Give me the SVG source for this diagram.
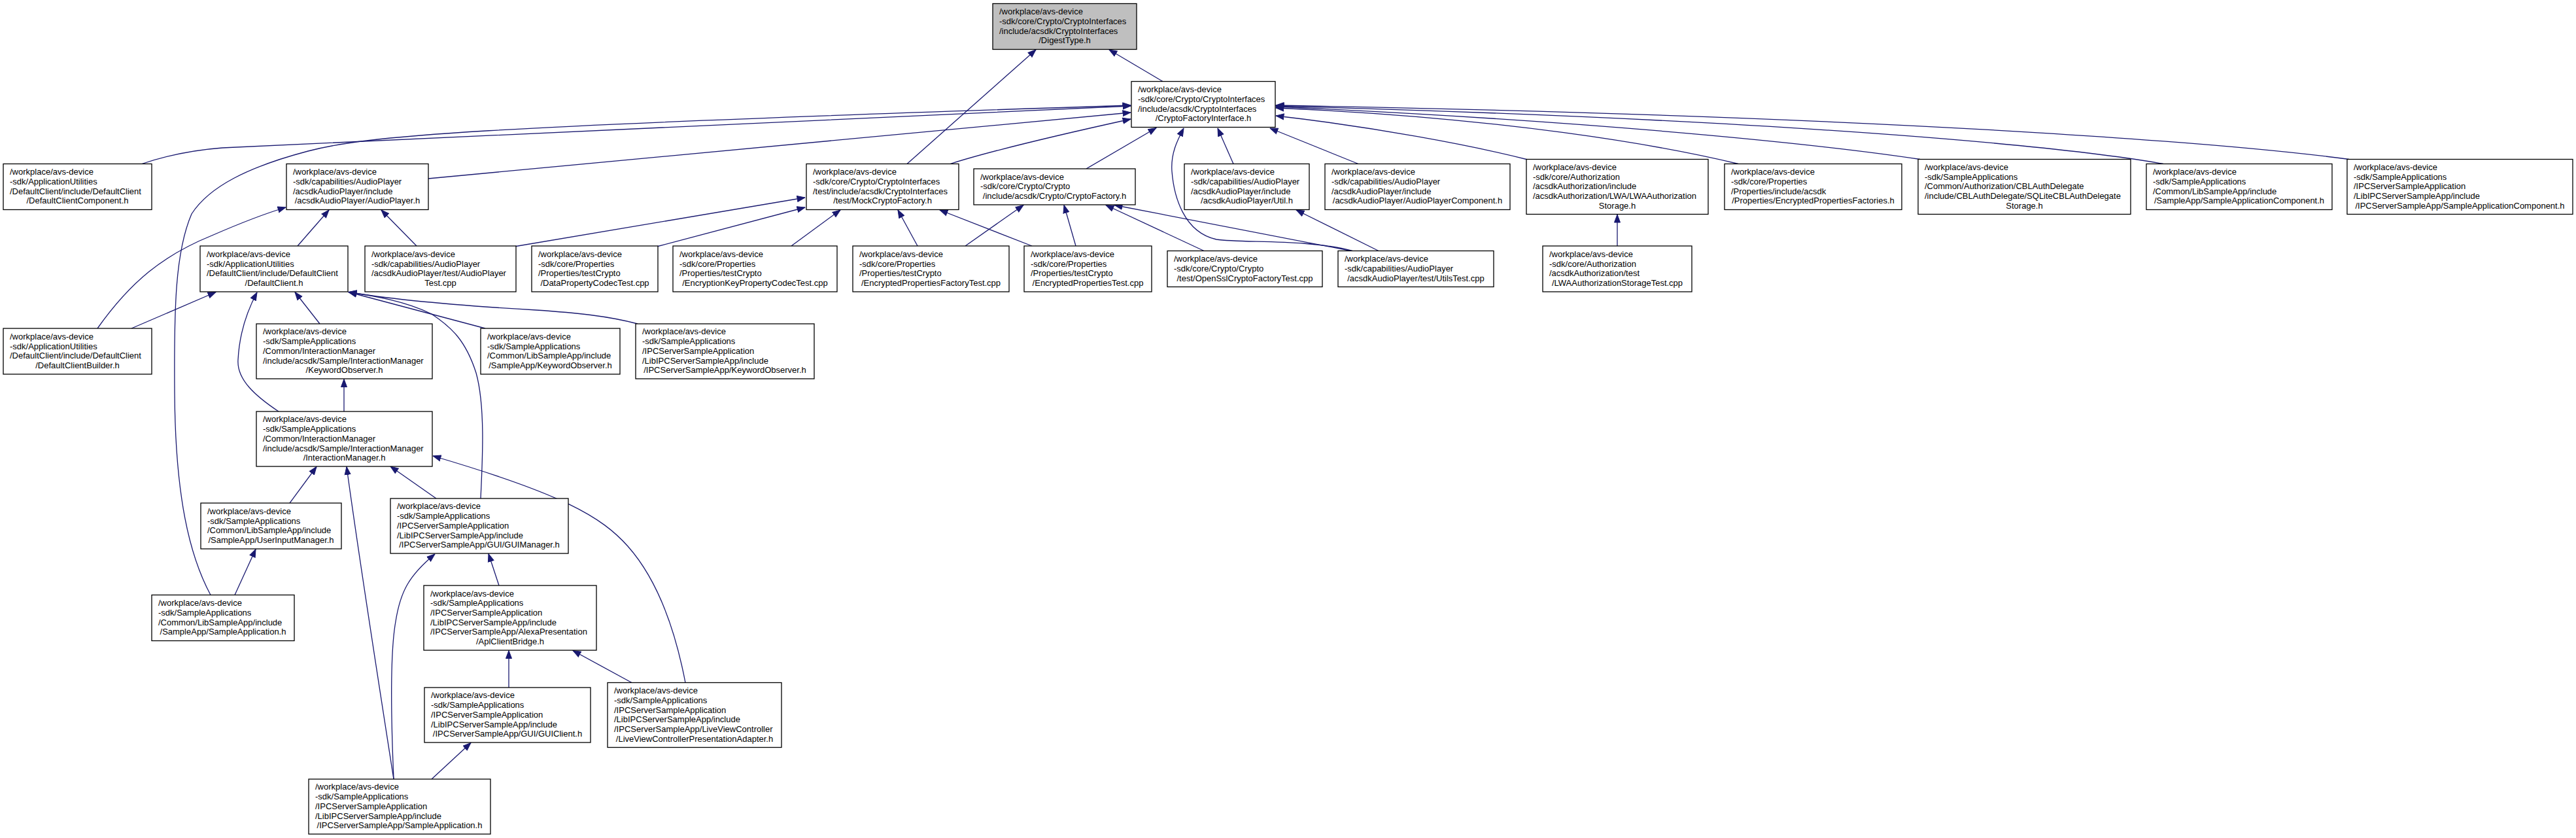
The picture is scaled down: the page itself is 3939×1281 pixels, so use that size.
<svg xmlns="http://www.w3.org/2000/svg" width="3939" height="1281" viewBox="0 0 3939 1281">
<defs>
<style>
.n rect{fill:#fff;stroke:#000;stroke-width:1.3}
.n.g rect{fill:#bfbfbf}
.n text{font-family:"Liberation Sans",Arial,Helvetica,sans-serif;font-size:13px;fill:#000}
.n text.c{text-anchor:middle}
.e path{fill:none;stroke:#191970;stroke-width:1.3;marker-end:url(#ah)}
</style>
<marker id="ah" markerUnits="userSpaceOnUse" markerWidth="13" markerHeight="11" viewBox="0 0 13 11" refX="12.5" refY="5.5" orient="auto">
<path d="M0.5,1 L12.5,5.5 L0.5,10 z" fill="#191970" stroke="#191970" stroke-width="1"/>
</marker>
</defs>
<rect x="0" y="0" width="3939" height="1281" fill="#fff"/>
<g id="edges" class="e">
<path d="M1778,124.5 L1696,76"/>
<path d="M1387,250.5 L1584,76"/>
<path d="M217,250.5 C260,236 300,229 340,226 L1729,162"/>
<path d="M322,909.5 C290,850 268,760 267,600 C266,470 268,385 293,327 C320,285 380,255 471,231 C560,208 700,194 1729,161"/>
<path d="M655,273 L1729,172"/>
<path d="M1453,250.5 C1520,229 1620,206 1729,182"/>
<path d="M1661,258 L1768,195.5"/>
<path d="M2068,383.5 C2000,365 1900,372 1860,366 C1810,355 1795,300 1792,262 C1790,235 1800,215 1810,196"/>
<path d="M1886,250.5 L1862,196"/>
<path d="M2077,250.5 L1942,196"/>
<path d="M2336,244 C2250,222 2100,194 1951,177"/>
<path d="M2658,250.5 C2540,222 2300,180 1951,165"/>
<path d="M2936,243.5 C2820,226 2500,188 1951,163"/>
<path d="M3308,250.5 C3180,228 2800,185 1951,162"/>
<path d="M3592,243.5 C3460,226 3000,180 1951,161"/>
<path d="M455,376 L503,321"/>
<path d="M637,376 L583,321"/>
<path d="M149,502 C200,430 250,390 324,360 C370,340 400,328 437,317"/>
<path d="M786,377 L1231,302"/>
<path d="M1004,377 L1231,317"/>
<path d="M1210,376 L1285,321"/>
<path d="M1403,376 L1373,321"/>
<path d="M1476,376 L1565,313.5"/>
<path d="M1578,376 L1437,321"/>
<path d="M1645,376 L1627,313.5"/>
<path d="M1841,383.5 L1691,313.5"/>
<path d="M2066,383.5 L1704,313.5"/>
<path d="M2108,383.5 L1982,321"/>
<path d="M2473,376 L2473,328"/>
<path d="M201,502 L330,446.5"/>
<path d="M426,629 C390,605 362,580 364,550 C366,510 378,475 393,447"/>
<path d="M489,495 L451,446.5"/>
<path d="M742,502 L533,446.5"/>
<path d="M975,495 C930,483 880,478 820,474 C700,467 600,458 533,446.5"/>
<path d="M735,762 C738,700 742,620 728,570 C712,520 690,500 660,480 C620,460 570,452 533,446.5"/>
<path d="M526,629 L526,579.5"/>
<path d="M443,769 L484,713.5"/>
<path d="M602,1191 C580,1050 550,860 530,713.5"/>
<path d="M667,762 L597,713"/>
<path d="M1048,1043.5 C1030,950 1000,880 960,835 C920,790 860,755 662,697"/>
<path d="M359,909.5 L391,839.5"/>
<path d="M602,1191 C598,1100 596,1000 605,950 C612,905 625,880 665,847"/>
<path d="M660,1191 L720,1135.5"/>
<path d="M763,895 L747,846.5"/>
<path d="M778,1051 L778,994.5"/>
<path d="M966,1043.5 L876,994.5"/>
</g>
<g id="n0" class="n g"><rect x="1518" y="5.5" width="220" height="70"/><text x="1528" y="22.3">/workplace/avs-device</text><text x="1528" y="37">-sdk/core/Crypto/CryptoInterfaces</text><text x="1528" y="51.7">/include/acsdk/CryptoInterfaces</text><text class="c" x="1628" y="66.4">/DigestType.h</text></g>
<g id="n1" class="n"><rect x="1730" y="124.5" width="220" height="70"/><text x="1740" y="141.3">/workplace/avs-device</text><text x="1740" y="156">-sdk/core/Crypto/CryptoInterfaces</text><text x="1740" y="170.7">/include/acsdk/CryptoInterfaces</text><text class="c" x="1840" y="185.4">/CryptoFactoryInterface.h</text></g>
<g id="n2" class="n"><rect x="5" y="250.5" width="227" height="70"/><text x="15" y="267.3">/workplace/avs-device</text><text x="15" y="282">-sdk/ApplicationUtilities</text><text x="15" y="296.7">/DefaultClient/include/DefaultClient</text><text class="c" x="118.5" y="311.4">/DefaultClientComponent.h</text></g>
<g id="n3" class="n"><rect x="438" y="250.5" width="217" height="70"/><text x="448" y="267.3">/workplace/avs-device</text><text x="448" y="282">-sdk/capabilities/AudioPlayer</text><text x="448" y="296.7">/acsdkAudioPlayer/include</text><text class="c" x="546.5" y="311.4">/acsdkAudioPlayer/AudioPlayer.h</text></g>
<g id="n4" class="n"><rect x="1233" y="250.5" width="233" height="70"/><text x="1243" y="267.3">/workplace/avs-device</text><text x="1243" y="282">-sdk/core/Crypto/CryptoInterfaces</text><text x="1243" y="296.7">/test/include/acsdk/CryptoInterfaces</text><text class="c" x="1349.5" y="311.4">/test/MockCryptoFactory.h</text></g>
<g id="n5" class="n"><rect x="1489" y="258" width="247" height="55"/><text x="1499" y="274.6">/workplace/avs-device</text><text x="1499" y="289.3">-sdk/core/Crypto/Crypto</text><text class="c" x="1612.5" y="304">/include/acsdk/Crypto/CryptoFactory.h</text></g>
<g id="n6" class="n"><rect x="1811" y="250.5" width="191" height="70"/><text x="1821" y="267.3">/workplace/avs-device</text><text x="1821" y="282">-sdk/capabilities/AudioPlayer</text><text x="1821" y="296.7">/acsdkAudioPlayer/include</text><text class="c" x="1906.5" y="311.4">/acsdkAudioPlayer/Util.h</text></g>
<g id="n7" class="n"><rect x="2026" y="250.5" width="283" height="70"/><text x="2036" y="267.3">/workplace/avs-device</text><text x="2036" y="282">-sdk/capabilities/AudioPlayer</text><text x="2036" y="296.7">/acsdkAudioPlayer/include</text><text class="c" x="2167.5" y="311.4">/acsdkAudioPlayer/AudioPlayerComponent.h</text></g>
<g id="n8" class="n"><rect x="2334" y="243.5" width="278" height="84"/><text x="2344" y="259.9">/workplace/avs-device</text><text x="2344" y="274.6">-sdk/core/Authorization</text><text x="2344" y="289.3">/acsdkAuthorization/include</text><text x="2344" y="304">/acsdkAuthorization/LWA/LWAAuthorization</text><text class="c" x="2473" y="318.7">Storage.h</text></g>
<g id="n9" class="n"><rect x="2637" y="250.5" width="271" height="70"/><text x="2647" y="267.3">/workplace/avs-device</text><text x="2647" y="282">-sdk/core/Properties</text><text x="2647" y="296.7">/Properties/include/acsdk</text><text class="c" x="2772.5" y="311.4">/Properties/EncryptedPropertiesFactories.h</text></g>
<g id="n10" class="n"><rect x="2933" y="243.5" width="325" height="84"/><text x="2943" y="259.9">/workplace/avs-device</text><text x="2943" y="274.6">-sdk/SampleApplications</text><text x="2943" y="289.3">/Common/Authorization/CBLAuthDelegate</text><text x="2943" y="304">/include/CBLAuthDelegate/SQLiteCBLAuthDelegate</text><text class="c" x="3095.5" y="318.7">Storage.h</text></g>
<g id="n11" class="n"><rect x="3282" y="250.5" width="284" height="70"/><text x="3292" y="267.3">/workplace/avs-device</text><text x="3292" y="282">-sdk/SampleApplications</text><text x="3292" y="296.7">/Common/LibSampleApp/include</text><text class="c" x="3424" y="311.4">/SampleApp/SampleApplicationComponent.h</text></g>
<g id="n12" class="n"><rect x="3589" y="243.5" width="345" height="84"/><text x="3599" y="259.9">/workplace/avs-device</text><text x="3599" y="274.6">-sdk/SampleApplications</text><text x="3599" y="289.3">/IPCServerSampleApplication</text><text x="3599" y="304">/LibIPCServerSampleApp/include</text><text class="c" x="3761.5" y="318.7">/IPCServerSampleApp/SampleApplicationComponent.h</text></g>
<g id="n13" class="n"><rect x="306" y="376" width="226" height="70"/><text x="316" y="392.8">/workplace/avs-device</text><text x="316" y="407.5">-sdk/ApplicationUtilities</text><text x="316" y="422.2">/DefaultClient/include/DefaultClient</text><text class="c" x="419" y="436.9">/DefaultClient.h</text></g>
<g id="n14" class="n"><rect x="558" y="376" width="231" height="70"/><text x="568" y="392.8">/workplace/avs-device</text><text x="568" y="407.5">-sdk/capabilities/AudioPlayer</text><text x="568" y="422.2">/acsdkAudioPlayer/test/AudioPlayer</text><text class="c" x="673.5" y="436.9">Test.cpp</text></g>
<g id="n15" class="n"><rect x="813" y="376" width="193" height="70"/><text x="823" y="392.8">/workplace/avs-device</text><text x="823" y="407.5">-sdk/core/Properties</text><text x="823" y="422.2">/Properties/testCrypto</text><text class="c" x="909.5" y="436.9">/DataPropertyCodecTest.cpp</text></g>
<g id="n16" class="n"><rect x="1029" y="376" width="251" height="70"/><text x="1039" y="392.8">/workplace/avs-device</text><text x="1039" y="407.5">-sdk/core/Properties</text><text x="1039" y="422.2">/Properties/testCrypto</text><text class="c" x="1154.5" y="436.9">/EncryptionKeyPropertyCodecTest.cpp</text></g>
<g id="n17" class="n"><rect x="1304" y="376" width="239" height="70"/><text x="1314" y="392.8">/workplace/avs-device</text><text x="1314" y="407.5">-sdk/core/Properties</text><text x="1314" y="422.2">/Properties/testCrypto</text><text class="c" x="1423.5" y="436.9">/EncryptedPropertiesFactoryTest.cpp</text></g>
<g id="n18" class="n"><rect x="1566" y="376" width="195" height="70"/><text x="1576" y="392.8">/workplace/avs-device</text><text x="1576" y="407.5">-sdk/core/Properties</text><text x="1576" y="422.2">/Properties/testCrypto</text><text class="c" x="1663.5" y="436.9">/EncryptedPropertiesTest.cpp</text></g>
<g id="n19" class="n"><rect x="1785" y="383.5" width="237" height="55"/><text x="1795" y="400.1">/workplace/avs-device</text><text x="1795" y="414.8">-sdk/core/Crypto/Crypto</text><text class="c" x="1903.5" y="429.5">/test/OpenSslCryptoFactoryTest.cpp</text></g>
<g id="n20" class="n"><rect x="2046" y="383.5" width="238" height="55"/><text x="2056" y="400.1">/workplace/avs-device</text><text x="2056" y="414.8">-sdk/capabilities/AudioPlayer</text><text class="c" x="2165" y="429.5">/acsdkAudioPlayer/test/UtilsTest.cpp</text></g>
<g id="n21" class="n"><rect x="2359" y="376" width="228" height="70"/><text x="2369" y="392.8">/workplace/avs-device</text><text x="2369" y="407.5">-sdk/core/Authorization</text><text x="2369" y="422.2">/acsdkAuthorization/test</text><text class="c" x="2473" y="436.9">/LWAAuthorizationStorageTest.cpp</text></g>
<g id="n22" class="n"><rect x="5" y="502" width="227" height="70"/><text x="15" y="518.8">/workplace/avs-device</text><text x="15" y="533.5">-sdk/ApplicationUtilities</text><text x="15" y="548.2">/DefaultClient/include/DefaultClient</text><text class="c" x="118.5" y="562.9">/DefaultClientBuilder.h</text></g>
<g id="n23" class="n"><rect x="392" y="495" width="269" height="84"/><text x="402" y="511.4">/workplace/avs-device</text><text x="402" y="526.1">-sdk/SampleApplications</text><text x="402" y="540.8">/Common/InteractionManager</text><text x="402" y="555.5">/include/acsdk/Sample/InteractionManager</text><text class="c" x="526.5" y="570.2">/KeywordObserver.h</text></g>
<g id="n24" class="n"><rect x="735" y="502" width="213" height="70"/><text x="745" y="518.8">/workplace/avs-device</text><text x="745" y="533.5">-sdk/SampleApplications</text><text x="745" y="548.2">/Common/LibSampleApp/include</text><text class="c" x="841.5" y="562.9">/SampleApp/KeywordObserver.h</text></g>
<g id="n25" class="n"><rect x="972" y="495" width="273" height="84"/><text x="982" y="511.4">/workplace/avs-device</text><text x="982" y="526.1">-sdk/SampleApplications</text><text x="982" y="540.8">/IPCServerSampleApplication</text><text x="982" y="555.5">/LibIPCServerSampleApp/include</text><text class="c" x="1108.5" y="570.2">/IPCServerSampleApp/KeywordObserver.h</text></g>
<g id="n26" class="n"><rect x="392" y="629" width="269" height="84"/><text x="402" y="645.4">/workplace/avs-device</text><text x="402" y="660.1">-sdk/SampleApplications</text><text x="402" y="674.8">/Common/InteractionManager</text><text x="402" y="689.5">/include/acsdk/Sample/InteractionManager</text><text class="c" x="526.5" y="704.2">/InteractionManager.h</text></g>
<g id="n27" class="n"><rect x="307" y="769" width="215" height="70"/><text x="317" y="785.8">/workplace/avs-device</text><text x="317" y="800.5">-sdk/SampleApplications</text><text x="317" y="815.2">/Common/LibSampleApp/include</text><text class="c" x="414.5" y="829.9">/SampleApp/UserInputManager.h</text></g>
<g id="n28" class="n"><rect x="597" y="762" width="272" height="84"/><text x="607" y="778.4">/workplace/avs-device</text><text x="607" y="793.1">-sdk/SampleApplications</text><text x="607" y="807.8">/IPCServerSampleApplication</text><text x="607" y="822.5">/LibIPCServerSampleApp/include</text><text class="c" x="733" y="837.2">/IPCServerSampleApp/GUI/GUIManager.h</text></g>
<g id="n29" class="n"><rect x="232" y="909.5" width="218" height="70"/><text x="242" y="926.3">/workplace/avs-device</text><text x="242" y="941">-sdk/SampleApplications</text><text x="242" y="955.7">/Common/LibSampleApp/include</text><text class="c" x="341" y="970.4">/SampleApp/SampleApplication.h</text></g>
<g id="n30" class="n"><rect x="648" y="895" width="264" height="99"/><text x="658" y="911.6">/workplace/avs-device</text><text x="658" y="926.3">-sdk/SampleApplications</text><text x="658" y="941">/IPCServerSampleApplication</text><text x="658" y="955.7">/LibIPCServerSampleApp/include</text><text x="658" y="970.4">/IPCServerSampleApp/AlexaPresentation</text><text class="c" x="780" y="985.1">/AplClientBridge.h</text></g>
<g id="n31" class="n"><rect x="649" y="1051" width="254" height="84"/><text x="659" y="1067.4">/workplace/avs-device</text><text x="659" y="1082.1">-sdk/SampleApplications</text><text x="659" y="1096.8">/IPCServerSampleApplication</text><text x="659" y="1111.5">/LibIPCServerSampleApp/include</text><text class="c" x="776" y="1126.2">/IPCServerSampleApp/GUI/GUIClient.h</text></g>
<g id="n32" class="n"><rect x="929" y="1043.5" width="266" height="99"/><text x="939" y="1060.1">/workplace/avs-device</text><text x="939" y="1074.8">-sdk/SampleApplications</text><text x="939" y="1089.5">/IPCServerSampleApplication</text><text x="939" y="1104.2">/LibIPCServerSampleApp/include</text><text x="939" y="1118.9">/IPCServerSampleApp/LiveViewController</text><text class="c" x="1062" y="1133.6">/LiveViewControllerPresentationAdapter.h</text></g>
<g id="n33" class="n"><rect x="472" y="1191" width="278" height="84"/><text x="482" y="1207.4">/workplace/avs-device</text><text x="482" y="1222.1">-sdk/SampleApplications</text><text x="482" y="1236.8">/IPCServerSampleApplication</text><text x="482" y="1251.5">/LibIPCServerSampleApp/include</text><text class="c" x="611" y="1266.2">/IPCServerSampleApp/SampleApplication.h</text></g>
</svg>
